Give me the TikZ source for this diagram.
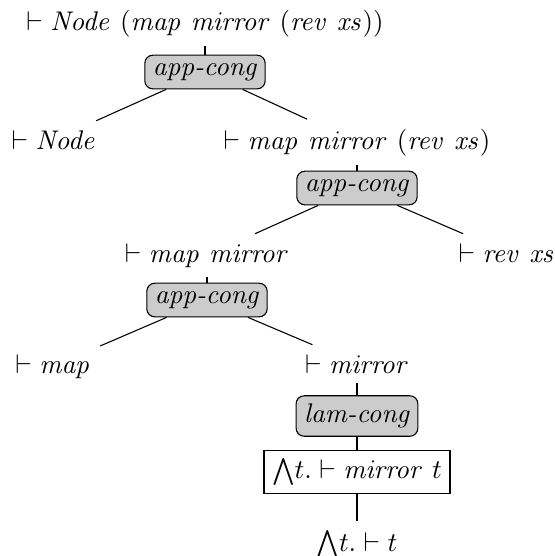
\documentclass[tikz,border=0pt]{standalone}
\begin{document}
\begin{tikzpicture}[x=0.3704pt,y=-0.3704pt,
  tx/.style={inner sep=3.33pt, anchor=base},
  rulebox/.style={draw, rounded corners=3pt, fill=gray!40, inner sep=3pt},
  goalbox/.style={draw, inner sep=3pt},
  edge/.style={draw, line width=0.4pt}]
\useasboundingbox (0,0) rectangle (555,556);
\node[tx] (t0) at (205,30) {$\vdash \mathit{Node}\ (\mathit{map\ mirror}\ (\mathit{rev\ xs}))$};
\node[rulebox] (b1) at (205,72) {\textit{app-cong}};
\node[tx] (t1) at (54,149) {$\vdash \mathit{Node}$};
\node[tx] (t2) at (357,149) {$\vdash \mathit{map\ mirror}\ (\mathit{rev\ xs})$};
\node[rulebox] (b2) at (357,188) {\textit{app-cong}};
\node[tx] (t3) at (207,262) {$\vdash \mathit{map\ mirror}$};
\node[tx] (t4) at (507,262) {$\vdash \mathit{rev\ xs}$};
\node[rulebox] (b3) at (207,300) {\textit{app-cong}};
\node[tx] (t5) at (53,373) {$\vdash \mathit{map}$};
\node[tx] (t6) at (357,373) {$\vdash \mathit{mirror}$};
\node[rulebox] (b4) at (357,416) {\textit{lam-cong}};
\node[goalbox] (g) at (357,472) {${\bigwedge}t. \vdash \mathit{mirror}\ t$};
\node[tx] (t7) at (357,551) {${\bigwedge}t. \vdash t$};
\draw[edge] (t0) -- (b1);
\draw[edge] (b1) -- (t1);
\draw[edge] (b1) -- (t2);
\draw[edge] (t2) -- (b2);
\draw[edge] (b2) -- (t3);
\draw[edge] (b2) -- (t4);
\draw[edge] (t3) -- (b3);
\draw[edge] (b3) -- (t5);
\draw[edge] (b3) -- (t6);
\draw[edge] (t6) -- (b4);
\draw[edge] (b4) -- (g);
\draw[edge] (g) -- (t7);
\end{tikzpicture}
\end{document}
